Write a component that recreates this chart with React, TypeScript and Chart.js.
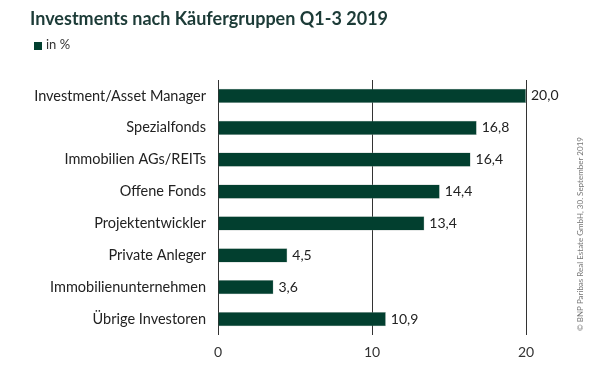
import React, { useEffect, useRef } from "react";
import { Chart, registerables } from "chart.js";

Chart.register(...registerables);

const categories = [
  "Investment/Asset Manager",
  "Spezialfonds",
  "Immobilien AGs/REITs",
  "Offene Fonds",
  "Projektentwickler",
  "Private Anleger",
  "Immobilienunternehmen",
  "Übrige Investoren",
];
const values = [20.0, 16.8, 16.4, 14.4, 13.4, 4.5, 3.6, 10.9];
const xTicks = [0, 10, 20];
const titleText = "Investments nach Käufergruppen Q1-3 2019";
const legendText = "in %";
const sourceText = "© BNP Paribas Real Estate GmbH, 30. September 2019";

const FONT = "Lato, 'Open Sans', sans-serif";
const GREEN = "#023f2f";

export default function App() {
  const ref = useRef<HTMLCanvasElement>(null);
  useEffect(() => {
    document.body.style.margin = "0";
    const extras = {
      id: "extras",
      afterDraw(chart: any) {
        const ctx = chart.ctx;
        ctx.save();
        ctx.fillStyle = "#1c3b37";
        ctx.font = `bold 18px ${FONT}`;
        ctx.textBaseline = "middle";
        ctx.textAlign = "left";
        ctx.fillText(titleText, 30, 19);
        ctx.fillStyle = GREEN;
        ctx.fillRect(34, 42, 8, 8);
        ctx.fillStyle = "#333";
        ctx.font = `13px ${FONT}`;
        ctx.fillText(legendText, 46, 45);
        // data labels
        const meta = chart.getDatasetMeta(0);
        ctx.font = `14px ${FONT}`;
        ctx.fillStyle = "#222";
        meta.data.forEach((bar: any, i: number) => {
          ctx.fillText(values[i].toFixed(1).replace(".", ","), bar.x + 5, bar.y);
        });
        // source
        ctx.translate(580, 234);
        ctx.rotate(-Math.PI / 2);
        ctx.textAlign = "center";
        ctx.font = `8px ${FONT}`;
        ctx.fillStyle = "#777";
        ctx.fillText(sourceText, 0, 0);
        ctx.restore();
      },
    };
    const chart = new Chart(ref.current!, {
      type: "bar",
      data: {
        labels: categories,
        datasets: [
          {
            data: values,
            backgroundColor: GREEN,
            borderColor: "#9aa9a4",
            borderWidth: 0.5,
            categoryPercentage: 1,
            barPercentage: 0.45,
          },
        ],
      },
      options: {
        indexAxis: "y",
        animation: false,
        responsive: false,
        layout: { padding: { top: 80, right: 74, left: 0, bottom: 0 } },
        plugins: { legend: { display: false }, tooltip: { enabled: false } },
        scales: {
          x: {
            min: 0,
            max: 20,
            afterBuildTicks: (s: any) => {
              s.ticks = xTicks.map((v) => ({ value: v }));
            },
            afterFit: (s: any) => {
              s.height = 49;
            },
            grid: { color: "#333", lineWidth: 1, drawTicks: false },
            border: { display: false },
            ticks: { color: "#333", font: { family: FONT, size: 14 }, padding: 9 },
          },
          y: {
            afterFit: (s: any) => {
              s.width = 218;
            },
            grid: { display: false, drawTicks: false },
            border: { display: false },
            ticks: { color: "#222", font: { family: FONT, size: 14.5 }, padding: 12 },
          },
        },
      },
      plugins: [extras],
    });
    return () => chart.destroy();
  }, []);
  return <canvas ref={ref} width={600} height={384} style={{ display: "block" }} />;
}
